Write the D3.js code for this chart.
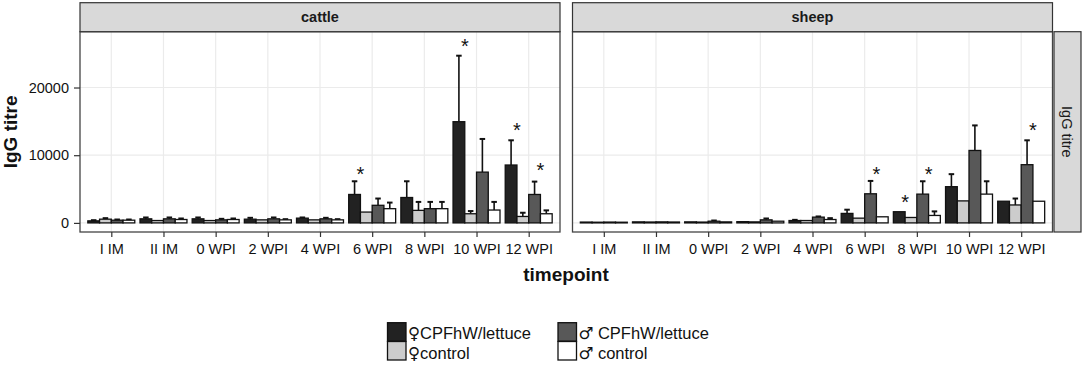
<!DOCTYPE html>
<html>
<head>
<meta charset="utf-8">
<script src="https://cdn.jsdelivr.net/npm/d3@7"></script>
<style>
  html, body { margin: 0; padding: 0; background: #fff; }
  svg { display: block; font-family: "Liberation Sans", Arial, "DejaVu Sans", sans-serif; }
</style>
</head>
<body>
<svg id="chart" width="1084" height="367"></svg>
<script>
// ---------- DATA ----------
const timepoints = ["I IM", "II IM", "0 WPI", "2 WPI", "4 WPI", "6 WPI", "8 WPI", "10 WPI", "12 WPI"];
const panels = ["cattle", "sheep"];
const seriesKeys = ["fCPF", "fCtrl", "mCPF", "mCtrl"];
const seriesSymbols = ["\u2640", "\u2640", "\u2642", "\u2642"];
const seriesLabels = ["CPFhW/lettuce", "control", " CPFhW/lettuce", " control"];
const yTicks = [0, 10000, 20000];

// cattle means and upper error-bar ends (null = no visible error bar)
const cattle_fCPF     = [300, 600, 600, 550, 700, 4200, 3750, 14950, 8550];
const cattle_fCPF_err = [400, 800, 800, 750, 800, 6150, 6150, 24700, 12200];
const cattle_fCtrl     = [550, 350, 350, 450, 450, 1600, 1850, 1350, 950];
const cattle_fCtrl_err = [700, null, null, null, null, null, 3100, 1750, 1500];
const cattle_mCPF     = [400, 600, 450, 600, 600, 2600, 2100, 7500, 4200];
const cattle_mCPF_err = [500, 800, 600, 800, 750, 3600, 3100, 12400, 6100];
const cattle_mCtrl     = [400, 500, 500, 450, 450, 2100, 2100, 1900, 1350];
const cattle_mCtrl_err = [500, 650, 650, 550, 550, 3000, 3100, 3100, 1850];

// sheep
const sheep_fCPF     = [120, 150, 150, 180, 350, 1400, 1650, 5350, 3200];
const sheep_fCPF_err = [null, null, null, null, 450, 1950, null, 7200, null];
const sheep_fCtrl     = [100, 130, 120, 150, 350, 700, 800, 3250, 2650];
const sheep_fCtrl_err = [null, null, null, null, null, null, null, null, 3600];
const sheep_mCPF     = [120, 150, 250, 450, 850, 4300, 4250, 10700, 8600];
const sheep_mCPF_err = [null, null, 350, 650, 950, 6200, 6150, 14400, 12200];
const sheep_mCtrl     = [100, 130, 150, 250, 500, 900, 1100, 4250, 3200];
const sheep_mCtrl_err = [null, null, null, null, 700, null, 1700, 6150, null];

// significance stars: timepoint, sex group, height
const cattleStarTimepoints = ["6 WPI", "10 WPI", "12 WPI", "12 WPI"];
const cattleStarSex        = ["F", "F", "F", "M"];
const cattleStarY          = [7900, 26800, 14400, 8450];
const sheepStarTimepoints  = ["6 WPI", "8 WPI", "8 WPI", "12 WPI"];
const sheepStarSex         = ["M", "F", "M", "M"];
const sheepStarY           = [7900, 3780, 7900, 14400];

const seriesColors = ["#222222", "#cccccc", "#585858", "#ffffff"];

// ---------- BUILD ----------
const panelData = {
  cattle: {
    vals: [cattle_fCPF, cattle_fCtrl, cattle_mCPF, cattle_mCtrl],
    errs: [cattle_fCPF_err, cattle_fCtrl_err, cattle_mCPF_err, cattle_mCtrl_err],
    stars: cattleStarTimepoints.map((t, i) => ({ t, sex: cattleStarSex[i], y: cattleStarY[i] }))
  },
  sheep: {
    vals: [sheep_fCPF, sheep_fCtrl, sheep_mCPF, sheep_mCtrl],
    errs: [sheep_fCPF_err, sheep_fCtrl_err, sheep_mCPF_err, sheep_mCtrl_err],
    stars: sheepStarTimepoints.map((t, i) => ({ t, sex: sheepStarSex[i], y: sheepStarY[i] }))
  }
};

const svg = d3.select("#chart");
svg.append("rect").attr("width", 1084).attr("height", 367).attr("fill", "#fff");

const panelTop = 31.7, panelBottom = 232, panelW = 480;
const panelLefts = [80, 572.5];
const stripTop = 2.7;
const tickFont = "'Liberation Sans', Arial, sans-serif";

const y = d3.scaleLinear().domain([-1345, 28245]).range([panelBottom, panelTop]);

panels.forEach((pname, pi) => {
  const x0 = panelLefts[pi], x1 = x0 + panelW;
  const x = d3.scalePoint().domain(timepoints).range([x0, x1]).padding(0.6);
  const step = x.step();
  const inner = d3.scaleBand().domain(seriesKeys).range([-0.45 * step, 0.45 * step]).padding(0);
  const bw = inner.bandwidth();
  const g = svg.append("g");
  const pd = panelData[pname];

  g.append("rect").attr("x", x0).attr("y", panelTop).attr("width", panelW)
    .attr("height", panelBottom - panelTop).attr("fill", "#fff");

  g.selectAll(".hg").data(yTicks).enter().append("line")
    .attr("x1", x0).attr("x2", x1).attr("y1", d => y(d)).attr("y2", d => y(d))
    .attr("stroke", "#ebebeb").attr("stroke-width", 1.2);
  g.selectAll(".vg").data(timepoints).enter().append("line")
    .attr("x1", d => x(d)).attr("x2", d => x(d)).attr("y1", panelTop).attr("y2", panelBottom)
    .attr("stroke", "#ebebeb").attr("stroke-width", 1.2);

  const recs = [];
  seriesKeys.forEach((k, si) => {
    timepoints.forEach((t, ti) => {
      recs.push({ k, si, t, v: pd.vals[si][ti], e: pd.errs[si][ti] });
    });
  });

  const eb = recs.filter(r => r.e != null && r.e > r.v);
  const capW = bw * 0.47;
  g.selectAll(".ev").data(eb).enter().append("line")
    .attr("x1", r => x(r.t) + inner(r.k) + bw / 2)
    .attr("x2", r => x(r.t) + inner(r.k) + bw / 2)
    .attr("y1", r => y(r.v)).attr("y2", r => y(r.e))
    .attr("stroke", "#111").attr("stroke-width", 1.6);
  g.selectAll(".ec").data(eb).enter().append("line")
    .attr("x1", r => x(r.t) + inner(r.k) + bw / 2 - capW / 2)
    .attr("x2", r => x(r.t) + inner(r.k) + bw / 2 + capW / 2)
    .attr("y1", r => y(r.e)).attr("y2", r => y(r.e))
    .attr("stroke", "#111").attr("stroke-width", 2);

  g.selectAll(".bar").data(recs).enter().append("rect")
    .attr("x", r => x(r.t) + inner(r.k))
    .attr("width", bw)
    .attr("y", r => y(r.v))
    .attr("height", r => y(0) - y(r.v))
    .attr("fill", r => seriesColors[r.si])
    .attr("stroke", "#111").attr("stroke-width", 1.3);

  g.selectAll(".star").data(pd.stars).enter().append("text")
    .attr("x", s => x(s.t) + (s.sex === "F" ? -0.225 : 0.225) * step)
    .attr("y", s => y(s.y) + 11.5)
    .attr("text-anchor", "middle")
    .attr("font-size", 20).attr("fill", "#111")
    .text("*");

  g.append("rect").attr("x", x0).attr("y", panelTop).attr("width", panelW)
    .attr("height", panelBottom - panelTop).attr("fill", "none")
    .attr("stroke", "#444").attr("stroke-width", 1.3);

  g.append("rect").attr("x", x0).attr("y", stripTop).attr("width", panelW)
    .attr("height", panelTop - stripTop).attr("fill", "#d9d9d9")
    .attr("stroke", "#333").attr("stroke-width", 1.2);
  g.append("text").attr("x", (x0 + x1) / 2).attr("y", (stripTop + panelTop) / 2)
    .attr("dy", "0.35em").attr("text-anchor", "middle")
    .attr("font-size", 14.5).attr("font-weight", "bold").attr("fill", "#1a1a1a")
    .text(pname);

  const xa = svg.append("g").attr("transform", `translate(0,${panelBottom})`)
    .call(d3.axisBottom(x).tickSize(5).tickPadding(7));
  xa.select(".domain").remove();
  xa.selectAll(".tick line").attr("stroke", "#333").attr("stroke-width", 1.2);
  xa.selectAll(".tick text").attr("font-size", 14.5).attr("fill", "#111")
    .attr("font-family", tickFont);

  if (pi === 0) {
    const ya = svg.append("g").attr("transform", `translate(${x0},0)`)
      .call(d3.axisLeft(y).tickValues(yTicks).tickFormat(d3.format("d")).tickSize(6).tickPadding(5));
    ya.select(".domain").remove();
    ya.selectAll(".tick line").attr("stroke", "#333").attr("stroke-width", 1.2);
    ya.selectAll(".tick text").attr("font-size", 14.5).attr("fill", "#111")
      .attr("font-family", tickFont);
  }
});

// right row strip
const rsX = 1054, rsW = 27;
svg.append("rect").attr("x", rsX).attr("y", panelTop).attr("width", rsW)
  .attr("height", panelBottom - panelTop).attr("fill", "#d9d9d9")
  .attr("stroke", "#333").attr("stroke-width", 1.2);
svg.append("text")
  .attr("transform", `translate(${rsX + rsW / 2},${(panelTop + panelBottom) / 2}) rotate(90)`)
  .attr("dy", "0.35em").attr("text-anchor", "middle")
  .attr("font-size", 14.5).attr("fill", "#1a1a1a").text("IgG titre");

// axis titles
svg.append("text")
  .attr("transform", `translate(17,${(panelTop + panelBottom) / 2}) rotate(-90)`)
  .attr("text-anchor", "middle").attr("font-size", 19).attr("font-weight", "bold")
  .attr("fill", "#111").text("IgG titre");
svg.append("text").attr("x", 566).attr("y", 281).attr("text-anchor", "middle")
  .attr("font-size", 19).attr("font-weight", "bold").attr("fill", "#111").text("timepoint");

// legend
const legX = [387.5, 558], keyY = [322.7, 341.5], textY = [339, 359], keyS = 18.5;
seriesKeys.forEach((k, i) => {
  const col = i < 2 ? 0 : 1, row = i % 2;
  svg.append("rect").attr("x", legX[col]).attr("y", keyY[row])
    .attr("width", keyS).attr("height", keyS)
    .attr("fill", seriesColors[i]).attr("stroke", "#111").attr("stroke-width", 1.3);
  const t = svg.append("text").attr("x", legX[col] + keyS + 2).attr("y", textY[row])
    .attr("font-size", 16.5).attr("fill", "#111");
  t.append("tspan").attr("font-family", "'DejaVu Sans', sans-serif")
    .attr("font-size", 16.5).text(seriesSymbols[i]);
  t.append("tspan").text(seriesLabels[i]);
});
</script>
</body>
</html>
